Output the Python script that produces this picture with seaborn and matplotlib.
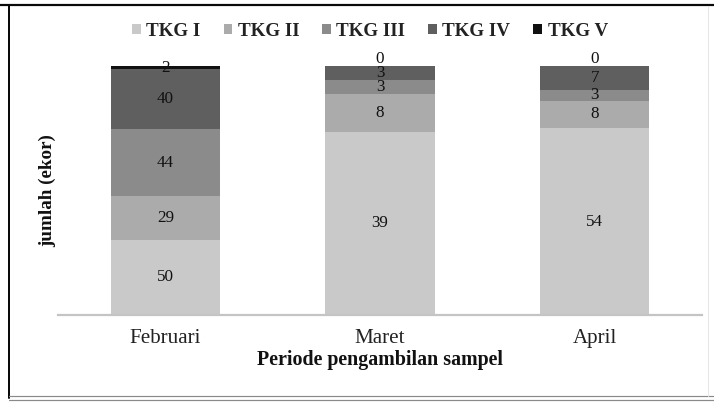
import numpy as np
import pandas as pd
import matplotlib
matplotlib.use("Agg")
import matplotlib.pyplot as plt
import seaborn as sns
from matplotlib.patches import Patch
from matplotlib.lines import Line2D

# Jumlah ikan per tingkat kematangan gonad (ekor) per bulan
months = ["Februari", "Maret", "April"]
stages = ["TKG I", "TKG II", "TKG III", "TKG IV", "TKG V"]
tkg1 = [50, 39, 54]
tkg2 = [29, 8, 8]
tkg3 = [44, 3, 3]
tkg4 = [40, 3, 7]
tkg5 = [2, 0, 0]
colors = ["#c9c9c9", "#ababab", "#8b8b8b", "#5f5f5f", "#111111"]

counts = np.array([tkg1, tkg2, tkg3, tkg4, tkg5], dtype=float)
share = counts / counts.sum(axis=0) * 100
cum = share.cumsum(axis=0)

sns.set_theme(style="white")
plt.rcParams["font.family"] = ["Liberation Serif", "DejaVu Serif"]

W, H = 714, 403
fig = plt.figure(figsize=(W / 72, H / 72), dpi=72)
fig.patch.set_facecolor("white")
ax = fig.add_axes([58 / W, (H - 315) / H, 644 / W, 249 / H])

# 100% stacked bars: draw cumulative totals from the top stage downwards
for i in reversed(range(len(stages))):
    df = pd.DataFrame({"bulan": months, "persen": cum[i]})
    sns.barplot(data=df, x="bulan", y="persen", color=colors[i],
                saturation=1, width=0.51, linewidth=0, ax=ax)

# value labels in the middle of each segment
for i in range(len(stages)):
    for j in range(len(months)):
        val = int(counts[i, j])
        if val == 0:
            ax.annotate(str(val), (j, cum[i, j]), xytext=(0, 7),
                        textcoords="offset points", ha="center", va="center",
                        fontsize=17, color="#111111", annotation_clip=False)
        else:
            ax.text(j, cum[i, j] - share[i, j] / 2, str(val), ha="center",
                    va="center", fontsize=17, color="#111111")

ax.set_ylim(0, 100)
ax.set_xlim(-0.5, 2.5)
ax.set_yticks([])
for s in ["top", "right", "left"]:
    ax.spines[s].set_visible(False)
ax.spines["bottom"].set_color("#c4c4c4")
ax.spines["bottom"].set_linewidth(2.2)
ax.tick_params(axis="x", length=0, pad=14, labelsize=21, labelcolor="#222222")
ax.set_xlabel("Periode pengambilan sampel", fontsize=20, fontweight="bold",
              color="#111111", labelpad=2)
ax.set_ylabel("jumlah (ekor)", fontsize=19, fontweight="bold", color="#111111")
ax.yaxis.set_label_coords(-2 / 644, 0.5)

handles = [Patch(facecolor=c, edgecolor="none", label=s) for c, s in zip(colors, stages)]
fig.legend(handles=handles, loc="center", bbox_to_anchor=(370 / W, 1 - 31 / H),
           ncol=5, frameon=False, handlelength=0.45, handleheight=0.45,
           handletextpad=0.3, columnspacing=1.2,
           prop={"size": 19, "weight": "bold", "family": "Liberation Serif"},
           labelcolor="#222222")

# surrounding frame
fig.add_artist(Line2D([0, 1], [1 - 4.5 / H, 1 - 4.5 / H], color="#0a0a0a", lw=2.2))
fig.add_artist(Line2D([9 / W, 9 / W], [1 - 4.5 / H, 1 - 398 / H], color="#0a0a0a", lw=2.0))
fig.add_artist(Line2D([9 / W, 1], [1 - 396 / H, 1 - 396 / H], color="#8a8a8a", lw=1.2))
fig.add_artist(Line2D([9 / W, 1], [1 - 399.5 / H, 1 - 399.5 / H], color="#8a8a8a", lw=1.2))
fig.add_artist(Line2D([708 / W, 708 / W], [1 - 6 / H, 1 - 396 / H], color="#e6e6e6", lw=1.0))

fig.savefig("out.png", dpi=72)
